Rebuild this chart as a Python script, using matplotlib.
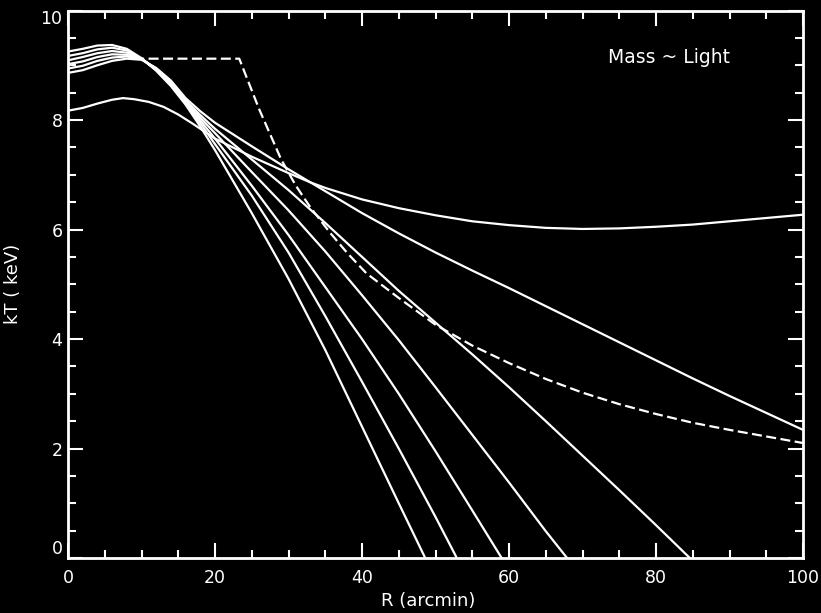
import matplotlib
matplotlib.use('Agg')
import matplotlib.pyplot as plt
from matplotlib.ticker import MultipleLocator

# temperature profiles, mass ~ light models
r_fan1 = [0, 2, 4, 6, 8, 10, 12, 14, 16, 18, 20, 25, 30, 35, 40, 45, 48.6]
kt_fan1 = [9.25, 9.30, 9.36, 9.37, 9.30, 9.13, 8.90, 8.62, 8.28, 7.88, 7.45,
           6.30, 5.10, 3.80, 2.40, 1.00, 0.0]

r_fan2 = [0, 2, 4, 6, 8, 10, 12, 14, 16, 18, 20, 25, 30, 35, 40, 45, 50, 52.9]
kt_fan2 = [9.17, 9.22, 9.29, 9.32, 9.27, 9.12, 8.91, 8.64, 8.30, 7.94, 7.56,
           6.62, 5.58, 4.42, 3.22, 2.00, 0.75, 0.0]

r_fan3 = [0, 2, 4, 6, 8, 10, 12, 14, 16, 18, 20, 25, 30, 35, 40, 45, 50, 55, 59]
kt_fan3 = [9.09, 9.15, 9.22, 9.26, 9.23, 9.12, 8.92, 8.66, 8.32, 7.99, 7.66,
           6.80, 5.90, 4.95, 4.00, 3.00, 1.95, 0.87, 0.0]

r_fan4 = [0, 2, 4, 6, 8, 10, 12, 14, 16, 18, 20, 25, 30, 35, 40, 45, 50, 55,
          60, 65, 67.9]
kt_fan4 = [9.02, 9.07, 9.15, 9.20, 9.19, 9.12, 8.93, 8.68, 8.34, 8.04, 7.76,
           7.05, 6.35, 5.60, 4.80, 3.98, 3.12, 2.25, 1.38, 0.49, 0.0]

r_fan5 = [0, 2, 4, 6, 8, 10, 12, 14, 16, 18, 20, 25, 30, 35, 40, 45, 50, 55,
          60, 65, 70, 75, 80, 84.6]
kt_fan5 = [8.94, 8.99, 9.08, 9.14, 9.16, 9.11, 8.94, 8.70, 8.36, 8.09, 7.84,
           7.28, 6.72, 6.12, 5.50, 4.88, 4.30, 3.72, 3.12, 2.50, 1.87, 1.24,
           0.60, 0.0]

r_fan6 = [0, 2, 4, 6, 8, 10, 12, 14, 16, 18, 20, 25, 30, 35, 40, 45, 50, 55,
          60, 65, 70, 75, 80, 85, 90, 95, 100]
kt_fan6 = [8.86, 8.91, 9.00, 9.08, 9.12, 9.10, 8.95, 8.72, 8.40, 8.16, 7.95,
           7.52, 7.10, 6.70, 6.30, 5.93, 5.58, 5.25, 4.93, 4.60, 4.27, 3.94,
           3.61, 3.28, 2.96, 2.65, 2.34]

r_low = [0, 2, 4, 6, 7.5, 9, 11, 13, 15, 17, 20, 25, 30, 33, 35, 40, 45, 50,
         55, 60, 65, 70, 75, 80, 85, 90, 95, 100]
kt_low = [8.17, 8.22, 8.30, 8.37, 8.40, 8.38, 8.33, 8.24, 8.10, 7.93, 7.66,
          7.33, 7.03, 6.86, 6.76, 6.55, 6.39, 6.26, 6.15, 6.08, 6.03, 6.01,
          6.02, 6.05, 6.09, 6.15, 6.21, 6.27]

r_dash = [9, 23.3, 26, 29, 31, 33, 35.6, 38, 40.6, 45, 50, 55, 60, 65, 70, 75,
          80, 85, 90, 95, 100]
kt_dash = [9.12, 9.12, 8.20, 7.28, 6.80, 6.40, 5.95, 5.57, 5.20, 4.75, 4.26,
           3.88, 3.56, 3.27, 3.02, 2.81, 2.63, 2.47, 2.34, 2.22, 2.10]

x_ticks = [0, 20, 40, 60, 80, 100]
y_ticks = [0, 2, 4, 6, 8, 10]


def main():
    fig = plt.figure(figsize=(8.21, 6.13), dpi=100, facecolor='black')
    ax = fig.add_axes([68 / 821, 1 - 558 / 613, 735 / 821, 547.5 / 613])
    ax.set_facecolor('black')

    lw = 1.6
    for r, kt in [(r_fan1, kt_fan1), (r_fan2, kt_fan2), (r_fan3, kt_fan3),
                  (r_fan4, kt_fan4), (r_fan5, kt_fan5), (r_fan6, kt_fan6),
                  (r_low, kt_low)]:
        ax.plot(r, kt, color='white', lw=lw, solid_joinstyle='round')
    ax.plot(r_dash, kt_dash, color='white', lw=lw, dashes=(4.5, 2.0))

    ax.set_xlim(0, 100)
    ax.set_ylim(0, 10)
    ax.set_xticks(x_ticks)
    ax.set_yticks(y_ticks)
    ax.set_xticklabels([str(v) for v in x_ticks])
    ax.set_yticklabels([str(v) for v in y_ticks])
    ax.xaxis.set_minor_locator(MultipleLocator(5))
    ax.yaxis.set_minor_locator(MultipleLocator(0.5))

    for s in ax.spines.values():
        s.set_color('white')
        s.set_linewidth(2)
    ax.tick_params(which='both', direction='in', colors='white',
                   top=True, right=True, width=1.5)
    ax.tick_params(which='major', length=11)
    ax.tick_params(which='minor', length=5.5)
    ax.tick_params(axis='x', which='major', pad=8, labelsize=12.5)
    ax.tick_params(axis='y', which='major', pad=4, labelsize=12.5)

    ylabels = ax.get_yticklabels()
    ylabels[0].set_va('bottom')
    ylabels[-1].set_va('top')

    ax.set_xlabel('R (arcmin)', color='white', fontsize=13)
    ax.set_ylabel('kT ( keV)', color='white', fontsize=13)
    ax.xaxis.set_label_coords(0.49, -0.062)
    ax.yaxis.set_label_coords(-0.062, 0.5)

    ax.text(73.5, 9.04, 'Mass ~ Light', color='white', fontsize=13.5,
            ha='left', va='baseline')

    fig.savefig('out.png', dpi=100, facecolor='black')


if __name__ == '__main__':
    main()
